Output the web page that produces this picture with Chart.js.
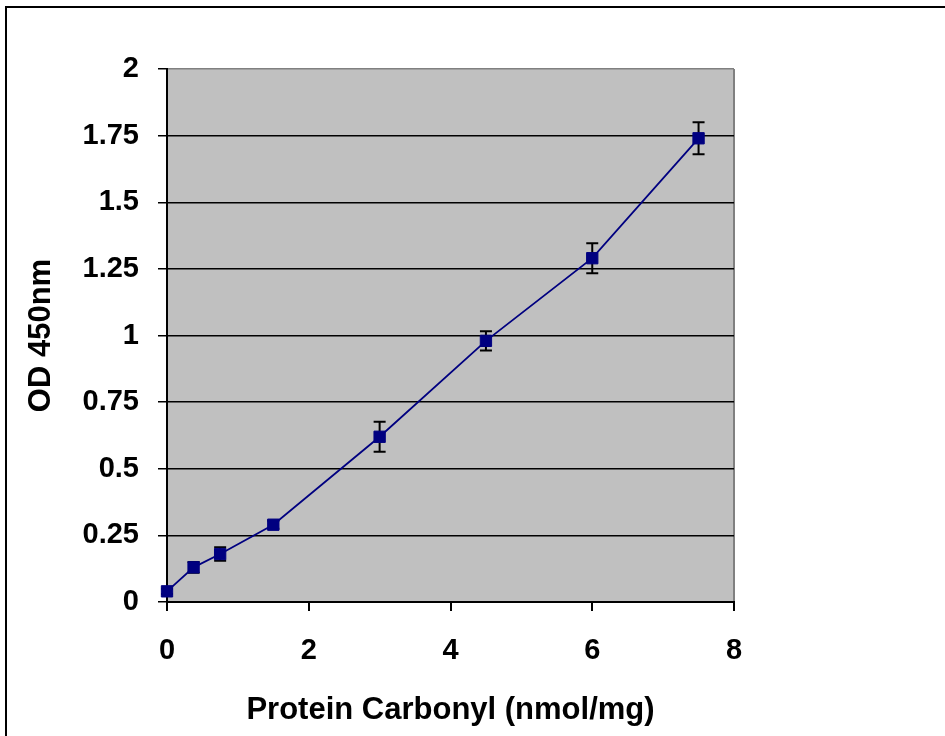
<!DOCTYPE html>
<html>
<head>
<meta charset="utf-8">
<script src="https://cdn.jsdelivr.net/npm/chart.js@4"></script>
<style>
  body { margin: 0; background: #fff; }
  canvas { display: block; }
</style>
</head>
<body>
<canvas id="odChart" width="945" height="736"></canvas>
<script>
// standard curve readings
const carbonyl = [0, 0.375, 0.75, 1.5, 3, 4.5, 6, 7.5];
const od450 = [0.04, 0.13, 0.18, 0.29, 0.62, 0.98, 1.29, 1.74];
const odError = [0.01, 0.02, 0.025, 0.015, 0.056, 0.036, 0.056, 0.06];
const yTicks = [0, 0.25, 0.5, 0.75, 1, 1.25, 1.5, 1.75, 2];
const xTicks = [0, 2, 4, 6, 8];

const navy = "#000080";
const fontFamily = "Arial, 'Liberation Sans', sans-serif";

// gray plot background + frame lines at top/left of the figure
const backdrop = {
    id: "backdrop",
    beforeDraw(chart) {
        const { ctx, chartArea } = chart;
        ctx.save();
        ctx.fillStyle = "#c0c0c0";
        ctx.fillRect(chartArea.left, chartArea.top, chartArea.right - chartArea.left, chartArea.bottom - chartArea.top);
        ctx.strokeStyle = "#000";
        ctx.lineWidth = 2;
        ctx.beginPath();
        ctx.moveTo(6, 736);
        ctx.lineTo(6, 7);
        ctx.lineTo(945, 7);
        ctx.stroke();
        ctx.restore();
    }
};

// vertical error bars, drawn under the markers
const errorBars = {
    id: "errorBars",
    beforeDatasetsDraw(chart) {
        const { ctx, scales } = chart;
        ctx.save();
        ctx.strokeStyle = "#000";
        ctx.lineWidth = 2;
        carbonyl.forEach((x, i) => {
            const px = scales.x.getPixelForValue(x);
            const top = scales.y.getPixelForValue(od450[i] + odError[i]);
            const bottom = scales.y.getPixelForValue(od450[i] - odError[i]);
            ctx.beginPath();
            ctx.moveTo(px, top);
            ctx.lineTo(px, bottom);
            ctx.moveTo(px - 6, top);
            ctx.lineTo(px + 6, top);
            ctx.moveTo(px - 6, bottom);
            ctx.lineTo(px + 6, bottom);
            ctx.stroke();
        });
        ctx.restore();
    }
};

const ctx = document.getElementById("odChart").getContext("2d");

new Chart(ctx, {
    type: "scatter",
    data: {
        datasets: [
            {
                label: "OD 450nm",
                data: carbonyl.map((x, i) => ({ x: x, y: od450[i] })),
                showLine: true,
                clip: false,
                borderColor: navy,
                backgroundColor: navy,
                borderWidth: 1.8,
                pointStyle: "rect",
                pointRadius: 8,
                pointBorderWidth: 1,
                pointBorderColor: navy,
                pointBackgroundColor: navy,
                tension: 0
            }
        ]
    },
    options: {
        responsive: false,
        animation: false,
        layout: {
            padding: { left: 0, top: 69, right: 211, bottom: 0 }
        },
        plugins: {
            legend: { display: false },
            tooltip: { enabled: false }
        },
        scales: {
            x: {
                type: "linear",
                min: 0,
                max: 8,
                afterFit: (scale) => { scale.height = 134; },
                afterBuildTicks: (scale) => { scale.ticks = xTicks.map(v => ({ value: v })); },
                ticks: {
                    color: "#000",
                    padding: 23,
                    callback: (v) => String(v),
                    font: { family: fontFamily, size: 29, weight: "bold" }
                },
                grid: {
                    color: (c) => (c.tick && c.tick.value === 8 ? "#808080" : "rgba(0,0,0,0)"),
                    tickColor: "#000",
                    tickLength: 9,
                    lineWidth: 2
                },
                border: { color: "#000", width: 2 },
                title: {
                    display: true,
                    text: "Protein Carbonyl (nmol/mg)",
                    color: "#000",
                    padding: { top: 0, bottom: 7 },
                    font: { family: fontFamily, size: 31, weight: "bold" }
                }
            },
            y: {
                type: "linear",
                min: 0,
                max: 2,
                afterFit: (scale) => { scale.width = 167; },
                afterBuildTicks: (scale) => { scale.ticks = yTicks.map(v => ({ value: v })); },
                ticks: {
                    color: "#000",
                    padding: 19,
                    callback: (v) => String(v),
                    font: { family: fontFamily, size: 29, weight: "bold" }
                },
                grid: {
                    color: (c) => (c.tick && c.tick.value === 2 ? "#808080" : "#000"),
                    tickColor: "#000",
                    tickLength: 9,
                    lineWidth: 1.5
                },
                border: { color: "#000", width: 2 },
                title: {
                    display: true,
                    text: "OD 450nm",
                    color: "#000",
                    padding: { top: 23, bottom: 0 },
                    font: { family: fontFamily, size: 31, weight: "bold" }
                }
            }
        }
    },
    plugins: [backdrop, errorBars]
});
</script>
</body>
</html>
